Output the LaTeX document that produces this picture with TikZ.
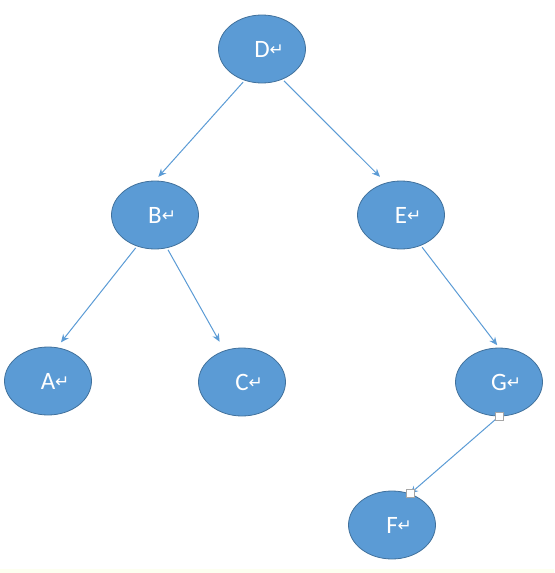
\documentclass[tikz,border=0pt]{standalone}
\usepackage{fontspec}
\setmainfont{Carlito}
\newfontfamily\symfont{DejaVu Sans}
\usetikzlibrary{shapes.geometric, arrows.meta}

\definecolor{nodeblue}{HTML}{5B9BD5}
\definecolor{nodeedge}{HTML}{41719C}
\definecolor{pagestrip}{HTML}{FDFFF0}

\newcommand{\rmark}{\rlap{\symfont\fontsize{8.5}{9}\selectfont\raisebox{0.2ex}{↵}}}

\begin{document}
\begin{tikzpicture}[
      x=0.5pt, y=-0.5pt,
      vertex/.style={ellipse, draw=nodeedge, fill=nodeblue, line width=0.4pt,
                     minimum width=43.5pt, minimum height=34pt, inner sep=0pt,
                     text=white, font=\fontsize{12.5}{14}\selectfont},
      line/.style={draw=nodeblue, line width=0.5pt, -{Stealth[length=4pt, width=3.5pt]}},
      handle/.style={rectangle, draw=gray!70, fill=white, line width=0.3pt,
                     minimum size=4pt, inner sep=0pt}
    ]
    \useasboundingbox (0,0) rectangle (554,573);
    \fill[pagestrip] (0,569) rectangle (554,573);

    % Nodes
    \node[vertex] (D) at (262,49) {D\rmark};
    \node[vertex] (B) at (155,215) {B\rmark};
    \node[vertex] (E) at (401,215) {E\rmark};
    \node[vertex] (A) at (48,381) {A\rmark};
    \node[vertex] (C) at (242,382) {C\rmark};
    \node[vertex] (G) at (499,382) {G\rmark};
    \node[vertex] (F) at (392,525) {F\rmark};

    % Connections
    \draw[line, shorten <=1pt, shorten >=2.5pt] (D.241) -- (B.90);
    \draw[line, shorten <=1pt, shorten >=4.2pt] (D.304) -- (E.115);
    \draw[line, shorten <=1pt, shorten >=3.2pt] (B.240) -- (A.75);
    \draw[line, shorten <=1pt, shorten >=5pt] (B.290) -- (C.119);
    \draw[line, shorten <=1pt, shorten >=1.5pt] (E.303) -- (G.90);
    \draw[line] (G.south) -- (F.60);

    % Handles
    \node[handle] at (G.south) {};
    \node[handle] at (F.60) {};
  \end{tikzpicture}
\end{document}
